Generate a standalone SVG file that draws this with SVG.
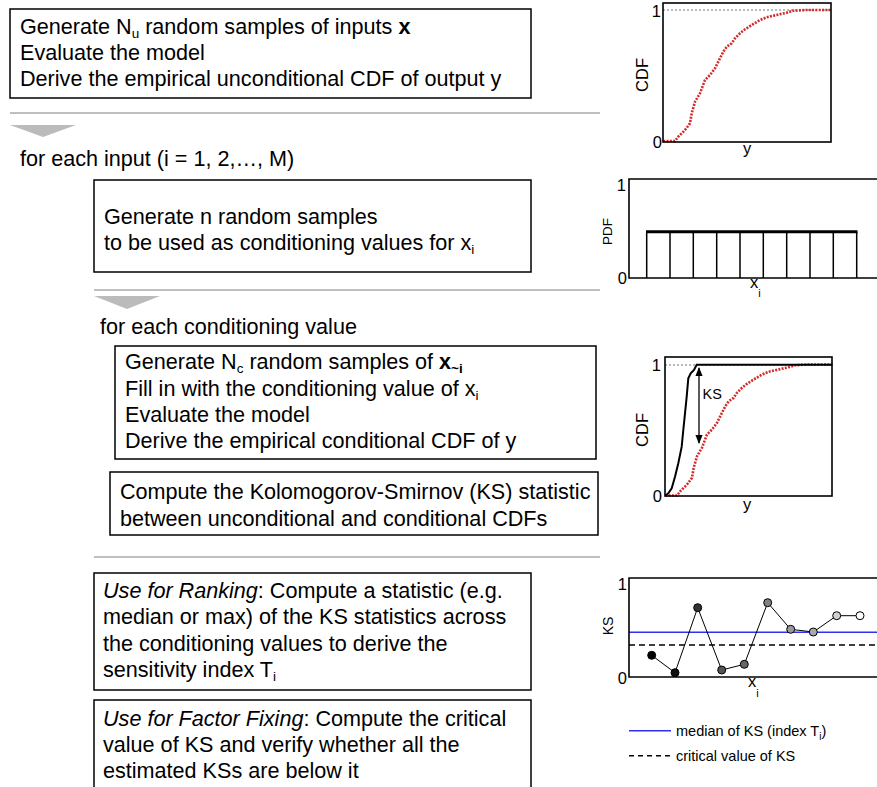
<svg xmlns="http://www.w3.org/2000/svg" width="877" height="787" viewBox="0 0 877 787">
<style>
.t{font-family:"Liberation Sans",Arial,Helvetica,sans-serif;font-size:21.6px;fill:#000}
.s{font-size:13.5px}
.box{fill:#fff;stroke:#000;stroke-width:1.5}
.sep{stroke:#aaa;stroke-width:1.5;fill:none}
.tri{fill:#bbb}
.ax{fill:none;stroke:#000;stroke-width:1.6}
.lab{font-family:"Liberation Sans",Arial,Helvetica,sans-serif;font-size:16.5px;fill:#000}
.red{fill:none;stroke:#d42a2a;stroke-width:2.6;stroke-dasharray:2 1.3}
.gdot{fill:none;stroke:#777;stroke-width:1.2;stroke-dasharray:2 2}
.leg{font-family:"Liberation Sans",Arial,Helvetica,sans-serif;font-size:14.5px;fill:#000}
.pt{stroke:#000;stroke-width:1}
</style>
<defs>
<marker id="ah" viewBox="0 0 10 10" refX="9" refY="5" markerWidth="7" markerHeight="7" orient="auto-start-reverse">
<path d="M0,1 L10,5 L0,9 z" fill="#000"/>
</marker>
<path id="ucdf" d="M663.3,141 L675,141 L678.3,136.7 L685,130 L690,123.3 L691.7,113.3 L695,101.7 L700,93.3 L705,80 L710,75 L715,68.3 L720,58.3 L723.3,51.7 L726.7,46.7 L731.7,43.3 L735,38.3 L740,33.3 L745,29.3 L751.7,25 L760,20 L766.7,17.3 L776.7,15 L786.7,12.7 L793.3,10.7 L806.7,10 L830.7,10"/>
</defs>
<rect width="877" height="787" fill="#fff"/>

<g id="connectors">
<line class="sep" x1="10" y1="113" x2="600" y2="113"/>
<polygon class="tri" points="10,125 76,125 43,137"/>
<line class="sep" x1="94" y1="290" x2="600" y2="290"/>
<polygon class="tri" points="94,296 160,296 127,309"/>
<line class="sep" x1="94" y1="557" x2="600" y2="557"/>
</g>

<g id="node-unconditional">
<rect class="box" x="10" y="9" width="521" height="89"/>
<text class="t" x="20" y="34">Generate N<tspan class="s" dy="4">u</tspan><tspan dy="-4"> random samples of inputs </tspan><tspan font-weight="bold">x</tspan></text>
<text class="t" x="20" y="60">Evaluate the model</text>
<text class="t" x="20" y="86">Derive the empirical unconditional CDF of output y</text>
</g>

<g id="label-foreach-input">
<text class="t" x="20" y="166">for each input (i = 1, 2,…, M)</text>
</g>

<g id="node-conditioning-samples">
<rect class="box" x="94" y="180" width="437" height="92"/>
<text class="t" x="104" y="224">Generate n random samples</text>
<text class="t" x="104" y="250">to be used as conditioning values for x<tspan class="s" dy="4">i</tspan></text>
</g>

<g id="label-foreach-value">
<text class="t" x="100" y="334">for each conditioning value</text>
</g>

<g id="node-conditional">
<rect class="box" x="115" y="346" width="481" height="113"/>
<text class="t" x="125" y="369">Generate N<tspan class="s" dy="4">c</tspan><tspan dy="-4"> random samples of </tspan><tspan font-weight="bold">x<tspan class="s" dy="4">~i</tspan></tspan></text>
<text class="t" x="125" y="396">Fill in with the conditioning value of x<tspan class="s" dy="4">i</tspan></text>
<text class="t" x="125" y="422">Evaluate the model</text>
<text class="t" x="125" y="448">Derive the empirical conditional CDF of y</text>
</g>

<g id="node-ks">
<rect class="box" x="110" y="472" width="488" height="63"/>
<text class="t" x="120" y="499">Compute the Kolomogorov-Smirnov (KS) statistic</text>
<text class="t" x="120" y="526">between unconditional and conditional CDFs</text>
</g>

<g id="node-ranking">
<rect class="box" x="94" y="573" width="437" height="117"/>
<text class="t" x="103" y="598"><tspan font-style="italic">Use for Ranking</tspan>: Compute a statistic (e.g.</text>
<text class="t" x="103" y="624">median or max) of the KS statistics across</text>
<text class="t" x="103" y="651">the conditioning values to derive the</text>
<text class="t" x="103" y="677">sensitivity index T<tspan class="s" dy="4">i</tspan></text>
</g>

<g id="node-factor-fixing">
<rect class="box" x="94" y="700" width="437" height="100"/>
<text class="t" x="103" y="726"><tspan font-style="italic">Use for Factor Fixing</tspan>: Compute the critical</text>
<text class="t" x="103" y="752">value of KS and verify whether all the</text>
<text class="t" x="103" y="778">estimated KSs are below it</text>
</g>

<g id="plot-unconditional-cdf">
<line class="gdot" x1="663" y1="10" x2="831" y2="10"/>
<use href="#ucdf" class="red"/>
<rect class="ax" x="663" y="3" width="168" height="139"/>
<text class="lab" x="661" y="17" text-anchor="end">1</text>
<text class="lab" x="662" y="148" text-anchor="end">0</text>
<text class="lab" transform="translate(648,75) rotate(-90)" text-anchor="middle">CDF</text>
<text class="lab" x="747" y="154" text-anchor="middle">y</text>
</g>

<g id="plot-pdf">
<path class="ax" d="M877,179 H629 V278 H877"/>
<g fill="none" stroke="#000" stroke-width="1.5">
<path d="M646.7,231.7 V278 M670,231.7 V278 M693.3,231.7 V278 M716.7,231.7 V278 M740,231.7 V278 M763.3,231.7 V278 M786.7,231.7 V278 M810,231.7 V278 M833.3,231.7 V278 M856.7,231.7 V278"/>
</g>
<line x1="646" y1="231.7" x2="857.5" y2="231.7" stroke="#000" stroke-width="3"/>
<text class="lab" x="626" y="191" text-anchor="end">1</text>
<text class="lab" x="627" y="284" text-anchor="end">0</text>
<text class="lab" style="font-size:13.5px" transform="translate(611.5,231.5) rotate(-90)" text-anchor="middle">PDF</text>
<text class="lab" x="750" y="288">x<tspan font-size="11" dy="9">i</tspan></text>
</g>

<g id="plot-conditional-cdf">
<line class="gdot" x1="665" y1="365" x2="832" y2="365"/>
<use href="#ucdf" class="red" transform="translate(2,354.5)"/>
<path fill="none" stroke="#000" stroke-width="2" d="M665,495.7 L668.3,493.3 L671.7,488.3 L675,476.7 L678.3,463.3 L681.7,446.7 L683.3,430 L685,413.3 L686.7,396.7 L688.3,378.3 L690.7,373.3 L694,370 L696.7,364.7 L832,364.7"/>
<line x1="699" y1="368" x2="699" y2="443" stroke="#000" stroke-width="1.3" marker-start="url(#ah)" marker-end="url(#ah)"/>
<text class="leg" x="702.5" y="399">KS</text>
<rect class="ax" x="665" y="357" width="167" height="139"/>
<text class="lab" x="661" y="371" text-anchor="end">1</text>
<text class="lab" x="662" y="502" text-anchor="end">0</text>
<text class="lab" transform="translate(648,430) rotate(-90)" text-anchor="middle">CDF</text>
<text class="lab" x="747" y="510" text-anchor="middle">y</text>
</g>

<g id="plot-ks">
<line x1="629" y1="632.3" x2="877" y2="632.3" stroke="#3030f0" stroke-width="1.6"/>
<line x1="629" y1="645" x2="877" y2="645" stroke="#000" stroke-width="1.6" stroke-dasharray="6 4"/>
<path fill="none" stroke="#000" stroke-width="1" d="M651.7,655.3 L675,672.7 L697.7,607.7 L721.7,670 L744.3,664.3 L767.7,602.7 L790.7,629.3 L813.3,632 L836.7,615.7 L860,615.7"/>
<circle class="pt" cx="651.7" cy="655.3" r="4" fill="#000"/>
<circle class="pt" cx="675" cy="672.7" r="4" fill="#111"/>
<circle class="pt" cx="697.7" cy="607.7" r="4" fill="#333"/>
<circle class="pt" cx="721.7" cy="670" r="4" fill="#555"/>
<circle class="pt" cx="744.3" cy="664.3" r="4" fill="#666"/>
<circle class="pt" cx="767.7" cy="602.7" r="4" fill="#808080"/>
<circle class="pt" cx="790.7" cy="629.3" r="4" fill="#999"/>
<circle class="pt" cx="813.3" cy="632" r="4" fill="#aaa"/>
<circle class="pt" cx="836.7" cy="615.7" r="4" fill="#d0d0d0"/>
<circle class="pt" cx="860" cy="615.7" r="4" fill="#fff"/>
<path class="ax" d="M877,578 H629 V677 H877"/>
<text class="lab" x="627" y="590" text-anchor="end">1</text>
<text class="lab" x="627" y="684" text-anchor="end">0</text>
<text class="lab" style="font-size:14px" transform="translate(613,626) rotate(-90)" text-anchor="middle">KS</text>
<text class="lab" x="748" y="687">x<tspan font-size="11" dy="10">i</tspan></text>
</g>

<g id="legend">
<line x1="629" y1="730.7" x2="671" y2="730.7" stroke="#3030f0" stroke-width="1.6"/>
<text class="leg" x="676" y="735.5">median of KS (index T<tspan font-size="10" dy="4">i</tspan><tspan dy="-4">)</tspan></text>
<line x1="629" y1="755.7" x2="671" y2="755.7" stroke="#000" stroke-width="1.6" stroke-dasharray="5 4"/>
<text class="leg" x="676" y="760.5">critical value of KS</text>
</g>
</svg>
